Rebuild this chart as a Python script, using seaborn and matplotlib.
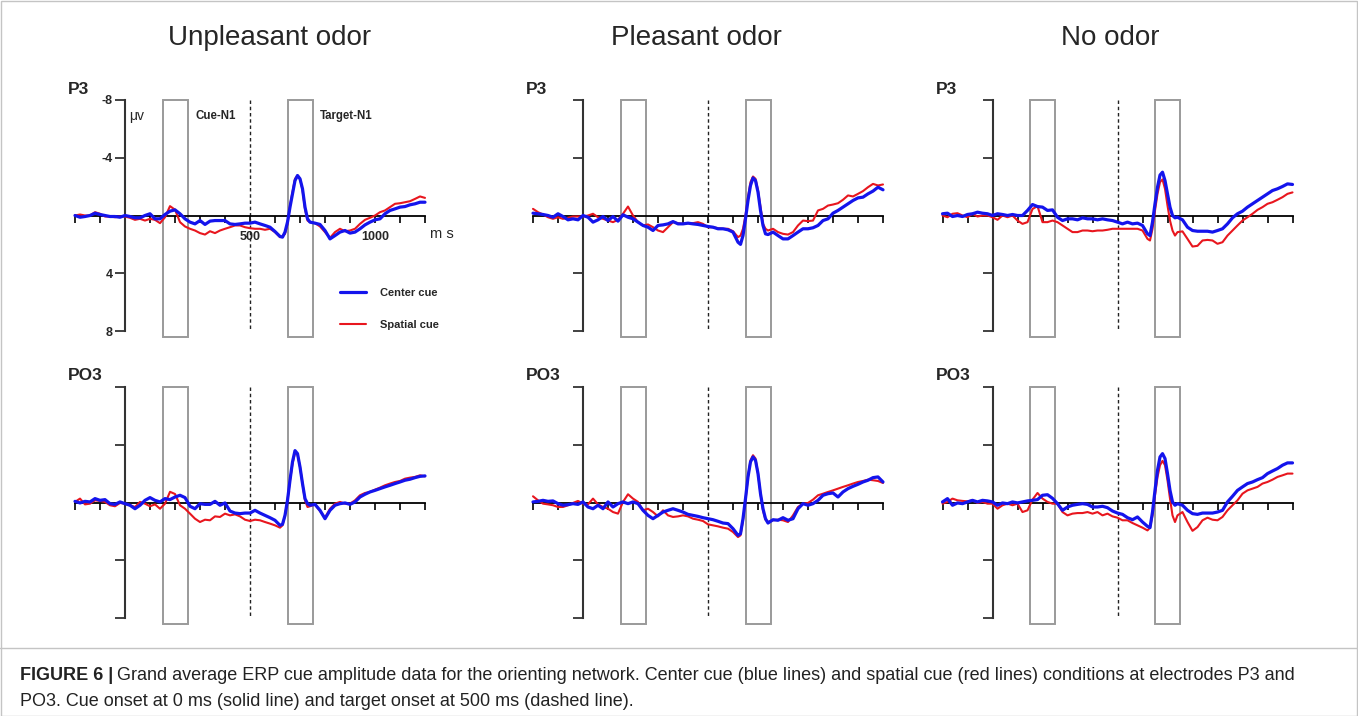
import numpy as np
import pandas as pd
import matplotlib
matplotlib.use("Agg")
import matplotlib.pyplot as plt
import seaborn as sns
from matplotlib.patches import Rectangle
from matplotlib.lines import Line2D

sns.set_theme(style="ticks")
plt.rcParams["font.family"] = ["Liberation Sans", "DejaVu Sans"]

# ---------------- data (µV) ----------------
TIME_MS = ([-200, -180, -160, -140, -120, -100, -80, -60, -40, -20]
           + list(range(0, 601, 20))
           + [620, 630, 640, 650, 660, 670, 680, 690, 700, 710, 720, 730, 740]
           + list(range(760, 1201, 20)))

CONDITIONS = ["Unpleasant odor", "Pleasant odor", "No odor"]
ELECTRODES = ["P3", "PO3"]
SERIES_NAMES = ["Center cue", "Spatial cue"]

P3_UNPLEASANT_CENTER = [0, 0.12, 0.07, 0, -0.16, -0.07, 0, 0.07, 0.07, 0.12,
    0, 0.07, 0.16, 0.16, 0, -0.12, 0.23, 0.23, -0.07, -0.3, -0.39, -0.12, 0.23, 0.46, 0.58, 0.35,
    0.62, 0.39, 0.35, 0.35, 0.35, 0.58, 0.62, 0.58, 0.53, 0.53, 0.46, 0.58, 0.69, 0.81, 1.11,
    1.45, 1.5, 1.15, 0.46, -0.58, -1.5, -2.42, -2.77, -2.54, -1.85, -0.58, 0.23, 0.46,
    0.53, 0.62, 1.04, 1.62, 1.39, 1.15, 1.04, 1.22, 1.15, 0.92, 0.65, 0.46, 0.3, 0.23, -0.12,
    -0.35, -0.46, -0.58, -0.62, -0.74, -0.81, -0.92, -0.92]
P3_UNPLEASANT_SPATIAL = [0, -0.07, 0, 0, -0.23, -0.12, 0.07, 0.07, 0.12, 0.07,
    0.07, 0.16, 0.3, 0.23, 0.35, 0.23, 0.3, 0.53, 0.12, -0.65, -0.4, 0.46, 0.76, 0.92, 1.04, 1.22,
    1.32, 1.09, 1.22, 1.04, 0.92, 0.81, 0.69, 0.69, 0.81, 0.88, 0.92, 0.92, 0.99, 0.92, 1.15,
    1.5, 1.45, 1.27, 0.58, -0.69, -1.62, -2.54, -2.77, -2.54, -1.78, -0.46, 0.35, 0.46,
    0.53, 0.76, 1.15, 1.55, 1.15, 0.92, 1.09, 1.04, 0.92, 0.58, 0.3, 0.16, 0, -0.23, -0.35,
    -0.58, -0.81, -0.85, -0.92, -0.99, -1.15, -1.32, -1.22]

P3_PLEASANT_CENTER = [-0.16, -0.12, -0.07, 0, 0.12, -0.12, 0.07, 0.3, 0.23, 0.3,
    0, 0.12, 0.46, 0.3, 0.07, 0.35, 0.07, 0.39, -0.05, 0.12, 0.23, 0.46, 0.69, 0.81, 1.04, 0.69,
    0.65, 0.58, 0.42, 0.58, 0.58, 0.53, 0.58, 0.62, 0.69, 0.76, 0.81, 0.92, 0.92, 0.99, 1.15,
    1.85, 2.0, 1.39, 0.23, -1.04, -2.08, -2.6, -2.42, -1.62, -0.35, 0.69, 1.27, 1.32,
    1.15, 1.39, 1.62, 1.62, 1.39, 1.15, 0.92, 0.92, 0.85, 0.69, 0.35, 0.23, -0.16, -0.35, -0.58,
    -0.81, -1.04, -1.22, -1.27, -1.5, -1.69, -1.96, -1.78]
P3_PLEASANT_SPATIAL = [-0.46, -0.23, -0.07, 0.12, 0.23, 0.12, 0.23, 0.16, 0.07, 0.07,
    0.07, 0, -0.12, 0.12, 0.23, 0.35, 0.46, 0.3, -0.12, -0.62, 0, 0.46, 0.69, 0.62, 0.81, 1.04,
    1.15, 0.81, 0.46, 0.53, 0.58, 0.53, 0.53, 0.46, 0.58, 0.81, 0.81, 0.88, 0.92, 0.92, 1.09,
    1.5, 1.39, 0.92, 0, -1.27, -2.31, -2.7, -2.54, -1.73, -0.58, 0.58, 0.92, 1.04,
    0.92, 1.15, 1.27, 1.32, 1.15, 0.69, 0.35, 0.39, 0.35, -0.35, -0.46, -0.69, -0.76, -0.85, -1.09,
    -1.39, -1.32, -1.5, -1.69, -1.96, -2.19, -2.08, -2.15]

P3_NOODOR_CENTER = [-0.12, -0.16, 0.07, 0, 0.07, -0.07, -0.12, -0.23, -0.16, -0.12,
    0, -0.12, -0.07, 0, -0.07, 0, 0, -0.35, -0.76, -0.62, -0.58, -0.35, -0.39, 0.12, 0.35, 0.23,
    0.23, 0.3, 0.16, 0.23, 0.23, 0.3, 0.23, 0.3, 0.35, 0.46, 0.58, 0.46, 0.58, 0.53, 0.69,
    1.27, 1.39, 0.46, -0.81, -1.96, -2.8, -3.0, -2.42, -1.5, -0.58, 0, 0.16, 0.12,
    0.3, 0.81, 1.04, 1.09, 1.09, 1.09, 1.15, 1.04, 0.92, 0.58, 0.16, -0.12, -0.3, -0.58, -0.81,
    -1.04, -1.27, -1.5, -1.73, -1.85, -2.01, -2.19, -2.15]
P3_NOODOR_SPATIAL = [0, 0.12, -0.12, -0.16, 0, 0.12, -0.12, 0.07, 0, 0,
    0.12, 0.3, 0, 0.12, 0, 0.35, 0.58, 0.46, -0.45, -0.65, 0.46, 0.46, 0.35, 0.46, 0.69, 0.92,
    1.15, 1.15, 1.04, 1.04, 1.09, 1.04, 1.04, 0.99, 0.92, 0.92, 0.92, 0.92, 0.92, 0.92, 1.04,
    1.62, 1.73, 0.92, -0.35, -1.5, -2.31, -2.5, -1.85, -0.69, 0.35, 1.04, 1.39, 1.15,
    1.1, 1.62, 2.15, 2.1, 1.73, 1.69, 1.73, 1.96, 1.85, 1.39, 1.04, 0.69, 0.35, 0.12, -0.12,
    -0.39, -0.58, -0.81, -0.92, -1.09, -1.27, -1.5, -1.6]

PO3_UNPLEASANT_CENTER = [-0.09, 0.02, -0.09, -0.05, -0.28, -0.16, -0.21, 0.07, 0.12, -0.05,
    0.07, 0.18, 0.42, 0.18, -0.16, -0.35, -0.16, -0.05, -0.28, -0.21, -0.39, -0.51, -0.35, 0.25, 0.42, 0.07,
    0.12, 0.12, -0.09, 0.18, 0.02, 0.58, 0.72, 0.76, 0.72, 0.72, 0.53, 0.72, 0.88, 1.04, 1.22,
    1.57, 1.5, 0.88, -0.16, -1.55, -2.82, -3.6, -3.39, -2.47, -1.32, -0.28, 0.07, 0.18,
    0.12, 0.53, 1.11, 0.53, 0.18, 0.07, 0.02, 0.12, -0.05, -0.39, -0.58, -0.74, -0.85, -0.97, -1.09,
    -1.2, -1.32, -1.43, -1.55, -1.62, -1.73, -1.82, -1.85]
PO3_UNPLEASANT_SPATIAL = [-0.05, -0.28, 0.12, 0.07, -0.16, -0.12, -0.05, 0.18, 0.25, 0.02,
    0.07, 0.18, 0.3, -0.05, 0.07, 0.25, 0.12, 0.42, 0.07, -0.75, -0.6, 0.18, 0.42, 0.76, 1.11, 1.34,
    1.18, 1.22, 0.95, 0.99, 0.76, 0.88, 0.81, 0.95, 1.18, 1.27, 1.18, 1.22, 1.34, 1.45, 1.57,
    1.73, 1.57, 0.88, -0.16, -1.55, -2.7, -3.45, -3.35, -2.47, -1.32, -0.16, 0.3, 0.25,
    0.12, 0.58, 1.04, 0.42, 0.07, -0.05, 0.07, 0.07, -0.16, -0.51, -0.67, -0.74, -0.9, -1.04, -1.2,
    -1.32, -1.43, -1.5, -1.66, -1.73, -1.78, -1.89, -1.82]

PO3_PLEASANT_CENTER = [-0.05, -0.09, -0.16, -0.09, -0.12, 0.07, 0.18, 0.14, 0.07, 0.12,
    -0.05, 0.3, 0.42, 0.18, 0.42, -0.05, 0.3, 0.07, -0.05, 0.07, -0.05, 0.07, 0.53, 0.88, 1.11, 0.88,
    0.65, 0.53, 0.42, 0.53, 0.65, 0.81, 0.88, 0.95, 1.04, 1.11, 1.18, 1.29, 1.41, 1.45, 1.8,
    2.26, 2.15, 1.11, -0.28, -1.78, -2.82, -3.16, -2.93, -2.01, -0.62, 0.42, 1.11, 1.41,
    1.18, 1.22, 1.04, 1.22, 1.11, 0.42, 0.07, 0.18, 0.07, -0.16, -0.51, -0.62, -0.67, -0.39, -0.74,
    -0.97, -1.13, -1.27, -1.43, -1.55, -1.73, -1.78, -1.43]
PO3_PLEASANT_SPATIAL = [-0.44, -0.16, 0.07, 0.12, 0.18, 0.3, 0.3, 0.18, 0.02, -0.12,
    0.07, 0.12, -0.28, 0.12, 0.3, 0.42, 0.65, 0.76, -0.05, -0.58, -0.28, -0.05, 0.53, 0.42, 0.65, 0.95,
    0.53, 0.88, 0.99, 0.95, 0.88, 0.95, 1.11, 1.18, 1.27, 1.5, 1.57, 1.64, 1.73, 1.8, 2.03,
    2.38, 2.26, 1.22, -0.16, -1.78, -2.93, -3.28, -3.05, -2.01, -0.62, 0.53, 1.18, 1.34,
    1.22, 1.18, 1.22, 1.34, 0.88, 0.3, 0.07, 0.02, -0.21, -0.51, -0.62, -0.74, -0.85, -0.97, -1.09,
    -1.2, -1.32, -1.43, -1.5, -1.59, -1.55, -1.5, -1.36]

PO3_NOODOR_CENTER = [-0.05, -0.28, 0.18, 0.02, 0.07, -0.05, -0.16, -0.05, -0.16, -0.12,
    -0.05, 0.18, 0.02, 0.07, -0.05, 0.02, -0.05, -0.12, -0.16, -0.21, -0.51, -0.55, -0.3, 0.07, 0.53, 0.3,
    0.18, 0.12, 0.07, 0.12, 0.3, 0.3, 0.25, 0.35, 0.58, 0.72, 0.81, 1.04, 1.18, 0.99, 1.34,
    1.64, 1.73, 0.65, -0.85, -2.24, -3.16, -3.39, -3.05, -2.01, -0.85, -0.05, 0.18, 0.07,
    0.18, 0.53, 0.76, 0.81, 0.72, 0.72, 0.72, 0.65, 0.53, -0.05, -0.44, -0.85, -1.09, -1.32, -1.43,
    -1.59, -1.73, -2.01, -2.19, -2.36, -2.59, -2.75, -2.75]
PO3_NOODOR_SPATIAL = [0.07, -0.05, -0.28, -0.16, -0.12, -0.09, -0.16, 0.02, -0.05, 0.07,
    0.07, 0.42, 0.18, 0.07, 0.18, 0.07, 0.65, 0.53, -0.21, -0.67, -0.28, -0.05, 0.07, 0.07, 0.65, 0.88,
    0.76, 0.72, 0.72, 0.65, 0.76, 0.65, 0.88, 0.76, 0.95, 1.04, 1.22, 1.22, 1.41, 1.57, 1.73,
    1.92, 1.73, 0.88, -0.51, -1.78, -2.59, -2.89, -2.59, -1.55, -0.28, 0.88, 1.34, 0.88,
    0.65, 1.34, 1.95, 1.69, 1.22, 1.04, 1.18, 1.22, 0.99, 0.53, 0.18, -0.16, -0.62, -0.85, -0.97,
    -1.09, -1.32, -1.43, -1.59, -1.78, -1.89, -2.01, -2.01]

PANEL_DATA = {
    ("P3", "Unpleasant odor"): (P3_UNPLEASANT_CENTER, P3_UNPLEASANT_SPATIAL),
    ("P3", "Pleasant odor"): (P3_PLEASANT_CENTER, P3_PLEASANT_SPATIAL),
    ("P3", "No odor"): (P3_NOODOR_CENTER, P3_NOODOR_SPATIAL),
    ("PO3", "Unpleasant odor"): (PO3_UNPLEASANT_CENTER, PO3_UNPLEASANT_SPATIAL),
    ("PO3", "Pleasant odor"): (PO3_PLEASANT_CENTER, PO3_PLEASANT_SPATIAL),
    ("PO3", "No odor"): (PO3_NOODOR_CENTER, PO3_NOODOR_SPATIAL),
}

CUE_WINDOW = (150, 250)
TARGET_WINDOW = (650, 750)
TARGET_ONSET = 500
Y_TICKS = [-8, -4, 4, 8]
Y_TICK_LABELS = ["-8", "-4", "4", "8"]
X_TICKS = list(range(-200, 1201, 100))
X_LABELED = {500: "500", 1000: "1000"}

CAPTION_BOLD = "FIGURE 6 |"
CAPTION_1 = ("Grand average ERP cue amplitude data for the orienting network. Center cue (blue lines) "
             "and spatial cue (red lines) conditions at electrodes P3 and")
CAPTION_2 = "PO3. Cue onset at 0 ms (solid line) and target onset at 500 ms (dashed line)."

# ---------------- layout ----------------
W, H = 1358, 716
BLUE = "#1414ec"
RED = "#e8161e"
BOX_C = "#9a9a9a"
XL = (-212, 1212)
Y_TOP, Y_BOT = -8.3, 8.7
COL_ZERO_PX = [125, 583, 992.5]
ROW_PX = [(100, 331), (387, 618.3)]
PPMS = 0.25

fig = plt.figure(figsize=(W / 100, H / 100), dpi=100)


def axes_rect(x0, ym8, yp8):
    left = x0 + XL[0] * PPMS
    width = (XL[1] - XL[0]) * PPMS
    ppu = (yp8 - ym8) / 16.0
    top = ym8 - (-8 - Y_TOP) * ppu
    bottom = yp8 + (Y_BOT - 8) * ppu
    return [left / W, 1 - bottom / H, width / W, (bottom - top) / H]


for r, elec in enumerate(ELECTRODES):
    for c, cond in enumerate(CONDITIONS):
        ym8, yp8 = ROW_PX[r]
        ax = fig.add_axes(axes_rect(COL_ZERO_PX[c], ym8, yp8))
        center, spatial = PANEL_DATA[(elec, cond)]
        n = len(TIME_MS)
        df = pd.DataFrame({
            "time": TIME_MS * 2,
            "amp": list(spatial) + list(center),
            "cond": ["Spatial cue"] * n + ["Center cue"] * n,
        })
        sns.lineplot(data=df, x="time", y="amp", hue="cond", size="cond",
                     hue_order=["Spatial cue", "Center cue"],
                     palette={"Center cue": BLUE, "Spatial cue": RED},
                     sizes={"Center cue": 2.3, "Spatial cue": 1.5},
                     size_order=["Spatial cue", "Center cue"],
                     estimator=None, sort=False, legend=False, ax=ax, zorder=3)

        for (a, b) in (CUE_WINDOW, TARGET_WINDOW):
            ax.add_patch(Rectangle((a, -8), b - a, 16.4, fill=False,
                                   edgecolor=BOX_C, lw=1.4, zorder=1))
        ax.vlines(TARGET_ONSET, -8, 7.9, colors="#222222", lw=1.0,
                  linestyles=(0, (2.5, 2.0)), zorder=1)

        ax.set_xlim(*XL)
        ax.set_ylim(Y_BOT, Y_TOP)
        ax.set_xlabel("")
        ax.set_ylabel("")
        for s in ("top", "right"):
            ax.spines[s].set_visible(False)
        ax.spines["left"].set_position(("data", 0))
        ax.spines["left"].set_bounds(-8, 8)
        ax.spines["left"].set_color("#333333")
        ax.spines["left"].set_linewidth(1.5)
        ax.spines["bottom"].set_position(("data", 0))
        ax.spines["bottom"].set_bounds(-200, 1200)
        ax.spines["bottom"].set_color("black")
        ax.spines["bottom"].set_linewidth(1.3)
        ax.set_yticks(Y_TICKS)
        ax.set_xticks(X_TICKS)
        ax.tick_params(axis="y", direction="out", length=7, width=1.3,
                       color="#333333", pad=2, labelsize=9)
        ax.tick_params(axis="x", direction="out", length=5, width=1.2,
                       color="black", pad=6, labelsize=9)
        ax.patch.set_visible(False)
        if r == 0 and c == 0:
            ax.set_yticklabels(Y_TICK_LABELS, fontweight="bold")
            ax.set_xticklabels([X_LABELED.get(t, "") for t in X_TICKS], fontweight="bold")
            ax.text(15, -6.9, "μv", fontsize=10, ha="left", va="center")
            ax.text(284, -6.9, "Cue-N1", fontsize=8.3, fontweight="bold", ha="left", va="center")
            ax.text(780, -6.9, "Target-N1", fontsize=8.3, fontweight="bold", ha="left", va="center")
            ax.text(1218, 1.25, "m s", fontsize=10.5, ha="left", va="center", clip_on=False)
            handles = [Line2D([], [], color=BLUE, lw=2.3), Line2D([], [], color=RED, lw=1.5)]
            ax.legend(handles, SERIES_NAMES, loc="upper left",
                      bbox_to_anchor=(340 / W, 1 - 288 / H), bbox_transform=fig.transFigure,
                      frameon=False, prop={"weight": "bold", "size": 8},
                      handlelength=2.3, handletextpad=1.3, labelspacing=2.0,
                      borderpad=0, borderaxespad=0)
        else:
            ax.set_yticklabels([])
            ax.set_xticklabels([])

        # electrode label
        lx = COL_ZERO_PX[c] - 57
        ly = 89 if r == 0 else 376
        fig.text(lx / W, 1 - ly / H, elec, fontsize=12.5, fontweight="bold",
                 ha="left", va="center")

# column titles
for cx, title in zip([270, 696, 1110], CONDITIONS):
    fig.text(cx / W, 1 - 38 / H, title, fontsize=20, ha="center", va="center")

# frame and caption separator
fig.add_artist(Rectangle((0.5 / W, 0.5 / H), 1 - 1.5 / W, 1 - 1.5 / H, transform=fig.transFigure,
                         fill=False, edgecolor="#c4c4c4", lw=1.0))
fig.add_artist(Line2D([0, 1], [1 - 648 / H] * 2, transform=fig.transFigure,
                      color="#c4c4c4", lw=1.0))

# caption (font size fitted so that the first line spans the same width as in the figure)
cap_family = ["Liberation Sans Narrow", "Arial Narrow", "Liberation Sans"]
renderer = fig.canvas.get_renderer()
fs0 = 12.0
pb = fig.text(0, 0, CAPTION_BOLD, fontsize=fs0, family=cap_family, fontweight="bold")
pr = fig.text(0, 0, CAPTION_1, fontsize=fs0, family=cap_family)
w_total = pb.get_window_extent(renderer).width + 4 + pr.get_window_extent(renderer).width
pb.remove()
pr.remove()
fs = fs0 * (1298 - 20) / w_total
t1 = fig.text(20 / W, 1 - 675 / H, CAPTION_BOLD, fontsize=fs, family=cap_family,
              fontweight="bold", ha="left", va="center", color="#222222")
bb = t1.get_window_extent(renderer)
fig.text((bb.x1 + 4) / W, 1 - 675 / H, CAPTION_1, fontsize=fs, family=cap_family,
         ha="left", va="center", color="#222222")
fig.text(20 / W, 1 - 701 / H, CAPTION_2, fontsize=fs, family=cap_family,
         ha="left", va="center", color="#222222")

fig.savefig("out.png", dpi=100)
